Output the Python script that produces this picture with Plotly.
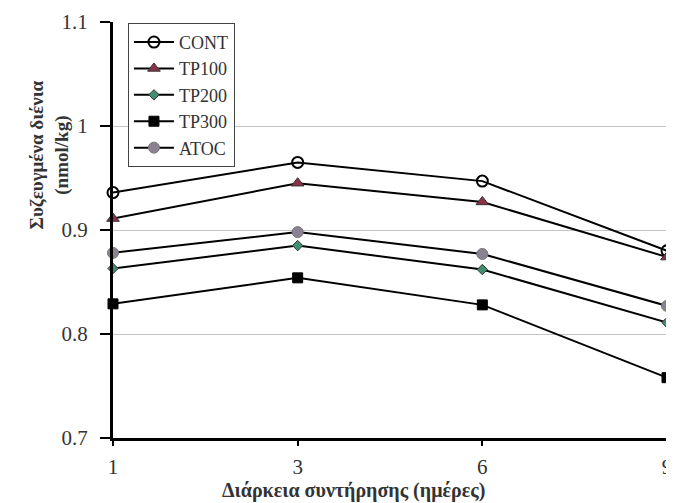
import plotly.graph_objects as go

days = ["1", "3", "6", "9"]
cont = [0.936, 0.965, 0.947, 0.880]
tp100 = [0.911, 0.945, 0.927, 0.874]
tp200 = [0.863, 0.885, 0.862, 0.811]
tp300 = [0.829, 0.854, 0.828, 0.758]
atoc = [0.878, 0.898, 0.877, 0.827]
y_ticks = [0.7, 0.8, 0.9, 1.0, 1.1]
y_tick_text = ["0.7", "0.8", "0.9", "1", "1.1"]

FONT = "Liberation Serif, Times New Roman, serif"
TXT = "#333333"

series = [
    ("CONT", cont, dict(symbol="circle-open", size=11, color="black", line=dict(width=2, color="black")), 2),
    ("TP100", tp100, dict(symbol="triangle-up", size=11, color="#8a3048", line=dict(width=1, color="#333333")), 2),
    ("TP200", tp200, dict(symbol="diamond", size=8, color="#3f8f70", line=dict(width=1, color="#333333")), 2),
    ("TP300", tp300, dict(symbol="square", size=10, color="black", line=dict(width=1, color="black")), 2),
    ("ATOC", atoc, dict(symbol="circle", size=11, color="#8a8292", line=dict(width=1, color="#777777")), 2),
]

fig = go.Figure()
for name, vals, mk, lw in series:
    fig.add_trace(go.Scatter(
        x=days, y=vals, name=name, mode="lines+markers",
        line=dict(color="black", width=lw), marker=mk, cliponaxis=False,
    ))

fig.update_layout(
    width=666, height=495,
    margin=dict(l=105, r=2, t=13, b=65),
    paper_bgcolor="white", plot_bgcolor="white",
    font=dict(family=FONT, size=21, color=TXT),
    showlegend=True,
    legend=dict(
        x=0.027, y=0.998, xanchor="left", yanchor="top",
        bordercolor="#444444", borderwidth=1, bgcolor="white",
        font=dict(family=FONT, size=18, color=TXT),
        tracegroupgap=0, itemwidth=40,
    ),
    xaxis=dict(
        type="category", range=[0, 3], showgrid=False,
        showline=True, linecolor="black", linewidth=3,
        ticks="outside", ticklen=5, tickwidth=2, tickcolor="black",
        tickfont=dict(family=FONT, size=21, color=TXT),
        ticklabelstandoff=3,
        zeroline=False,
    ),
    yaxis=dict(
        range=[0.7, 1.1], tickvals=y_ticks, ticktext=y_tick_text,
        showgrid=True, gridcolor="#c4c4c4", gridwidth=1,
        showline=True, linecolor="black", linewidth=3,
        ticks="outside", ticklen=10, tickwidth=2, tickcolor="black",
        tickfont=dict(family=FONT, size=21, color=TXT),
        ticklabelstandoff=8,
        zeroline=False,
    ),
    annotations=[
        dict(text="<b>Συζευγμένα διένια<br>(nmol/kg)</b>", textangle=-90,
             xref="paper", yref="paper", x=-0.115, y=0.68,
             xanchor="center", yanchor="middle", showarrow=False,
             font=dict(family=FONT, size=19, color=TXT)),
        dict(text="<b>Διάρκεια συντήρησης (ημέρες)</b>",
             xref="paper", yref="paper", x=0.435, y=-0.126,
             xanchor="center", yanchor="middle", showarrow=False,
             font=dict(family=FONT, size=20, color=TXT)),
    ],
)

fig.write_html("out.html")
